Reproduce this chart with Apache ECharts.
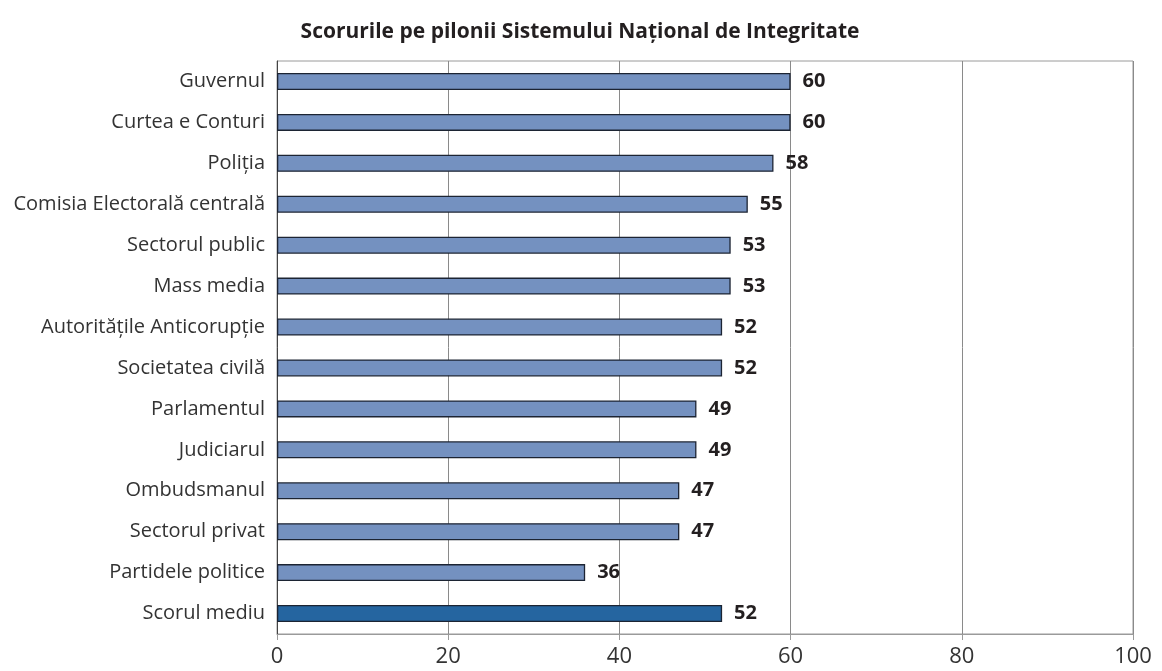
<!DOCTYPE html>
<html>
<head>
<meta charset="utf-8">
<script src="https://cdn.jsdelivr.net/npm/echarts@6/dist/echarts.min.js"></script>
<style>
  html, body { margin: 0; padding: 0; background: #fff; }
  #app { width: 1162px; height: 671px; }
</style>
</head>
<body>
<div id="app"></div>
<script>
const categories = [
  "Guvernul",
  "Curtea e Conturi",
  "Poliția",
  "Comisia Electorală centrală",
  "Sectorul public",
  "Mass media",
  "Autoritățile Anticorupție",
  "Societatea civilă",
  "Parlamentul",
  "Judiciarul",
  "Ombudsmanul",
  "Sectorul privat",
  "Partidele politice",
  "Scorul mediu",
];
const scores = [60, 60, 58, 55, 53, 53, 52, 52, 49, 49, 47, 47, 36, 52];
const axisTicks = [0, 20, 40, 60, 80, 100];

const app = document.getElementById("app");
const myChart = echarts.init(app);

const fontFamily = "'Open Sans', 'Noto Sans', sans-serif";
const lastIndex = categories.length - 1;

const option = {
  backgroundColor: "#fff",
  animation: false,
  title: {
    text: "Scorurile pe pilonii Sistemului Național de Integritate",
    left: 575,
    top: 17,
    textAlign: "center",
    textStyle: {
      fontFamily: fontFamily,
      fontSize: 21,
      fontWeight: "bold",
      color: "#231f20",
    },
  },
  grid: {
    left: 277,
    right: 29,
    top: 61,
    bottom: 37,
    show: true,
    borderColor: "#9a9a9a",
    borderWidth: 1,
  },
  xAxis: {
    type: "value",
    min: axisTicks[0],
    max: axisTicks[axisTicks.length - 1],
    interval: 20,
    axisLine: { show: true, lineStyle: { color: "#9a9a9a" } },
    axisTick: { show: true, length: 6, lineStyle: { color: "#9a9a9a" } },
    splitLine: { show: true, lineStyle: { color: "#8a8a8a", width: 1 } },
    axisLabel: {
      fontFamily: fontFamily,
      fontSize: 22,
      color: "#333",
      margin: 12,
    },
  },
  yAxis: {
    type: "category",
    data: categories,
    inverse: true,
    axisLine: { show: true, lineStyle: { color: "#444", width: 1 } },
    axisTick: { show: false },
    splitLine: { show: false },
    axisLabel: {
      fontFamily: fontFamily,
      fontSize: 20,
      color: "#333",
      margin: 12,
    },
  },
  series: [
    {
      type: "bar",
      barWidth: 17,
      data: scores.map((v, i) => ({
        value: v,
        itemStyle: {
          color: i === lastIndex ? "#2565a0" : "#7491c0",
        },
      })),
      itemStyle: {
        borderColor: "#1c2433",
        borderWidth: 1.3,
      },
      label: {
        show: true,
        position: "right",
        distance: 12,
        fontFamily: fontFamily,
        fontSize: 20,
        fontWeight: "bold",
        color: "#231f20",
      },
    },
  ],
};
myChart.setOption(option);
</script>
</body>
</html>
